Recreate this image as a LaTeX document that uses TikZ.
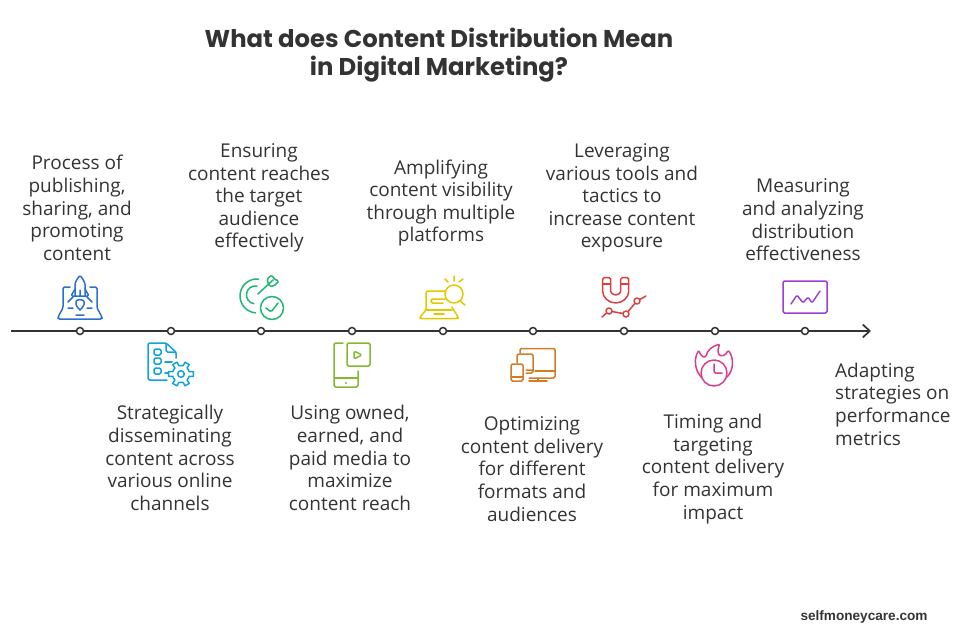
\documentclass[tikz,border=0pt]{standalone}
\usepackage{fontspec}
\usetikzlibrary{arrows.meta}
\setmainfont{Open Sans}
\newfontfamily\titlefont{Poppins}
\newfontfamily\sitefont{Liberation Sans}

\tikzset{
  labeltext/.style = {align = center, inner sep = 0pt, text = inkc, font = \fontsize{19}{22.6}\selectfont},
  dotnode/.style = {circle, draw = inkc, fill = white, line width = 1.5pt, minimum size = 7pt, inner sep = 0pt},
  iconline/.style = {line width = 1.5pt, line cap = round, line join = round, rounded corners = 1.5pt}
}

\begin{document}
\begin{tikzpicture}[x = 1pt, y = -1pt]
  \useasboundingbox (0,0) rectangle (980,640);

  \definecolor{inkc}{HTML}{333333}
  \definecolor{c1}{HTML}{2B6FD0}
  \definecolor{c2}{HTML}{13A3D8}
  \definecolor{c3}{HTML}{22B573}
  \definecolor{c4}{HTML}{84B82E}
  \definecolor{c5}{HTML}{E2C800}
  \definecolor{c6}{HTML}{D47B26}
  \definecolor{c7}{HTML}{D9403F}
  \definecolor{c8}{HTML}{D43F8D}
  \definecolor{c9}{HTML}{9B3FD5}

  \node[labeltext, font = \titlefont\bfseries\fontsize{24.3}{28}\selectfont] (title) at (439,55) {What does Content Distribution Mean\\in Digital Marketing?};
  \node[inner sep = 0pt, text = inkc, font = \sitefont\bfseries\fontsize{13.6}{16}\selectfont] (site) at (864,617) {selfmoneycare.com};

  % axis first, dots go over it
  \coordinate (axisstart) at (11,331);
  \coordinate (axisend) at (871,331);
  \draw[draw = inkc, line width = 1.7pt, -{Straight Barb[length = 7pt, width = 13pt]}] (axisstart) -- (axisend);

  \foreach \x/\n in {80/1, 171/2, 261/3, 352/4, 443/5, 533/6, 624/7, 715/8, 805/9}
    {\node[dotnode] (dot\n) at (\x,331) {};
    }

  \foreach \x/\y/\n/\t in {
    77/208/1/{Process of\\publishing,\\sharing, and\\promoting\\content},
    170/458/2/{Strategically\\disseminating\\content across\\various online\\channels},
    259/198/3/{Ensuring\\content reaches\\the target\\audience\\effectively},
    350/458/4/{Using owned,\\earned, and\\paid media to\\maximize\\content reach},
    441/203/5/{Amplifying\\content visibility\\through multiple\\platforms},
    532/469/6/{Optimizing\\content delivery\\for different\\formats and\\audiences},
    622/198/7/{Leveraging\\various tools and\\tactics to\\increase content\\exposure},
    713/469/8/{Timing and\\targeting\\content delivery\\for maximum\\impact},
    803/220/9/{Measuring\\and analyzing\\distribution\\effectiveness}}
    {\node[labeltext] (label\n) at (\x,\y) {\t};
    }
  \node[labeltext, align = left, anchor = west] (label10) at (835,404) {Adapting\\strategies on\\performance\\metrics};

  % rocket on laptop
  \draw[iconline, c1] (70,287) -- (63,287) -- (63,308) -- (58,317) -- (58,319) -- (102,319) -- (102,317) -- (97,308) -- (97,287) -- (90,287);
  \draw[iconline, c1] (75,296) -- (75,286) .. controls (75,282) and (78,278) .. (80,275) .. controls (82,278) and (85,282) .. (85,286) -- (85,296);
  \draw[iconline, c1] (75,289) -- (71,296) -- (89,296) -- (85,289) (80,290) -- (80,296);
  \draw[iconline, c1] (80,310) .. controls (77,307) and (76,305) .. (76,303) .. controls (76,299) and (84,299) .. (84,303) .. controls (84,305) and (83,307) .. (80,310);
  \draw[iconline, c1] (68,302) -- (73,297) (87,297) -- (92,302) (68,308) -- (73,308) (87,308) -- (92,308) (76,315) -- (84,315);

  % list page with gear
  \draw[iconline, c2] (176,358) -- (176,352) -- (166,343) -- (148,343) -- (148,380) -- (167,380);
  \draw[iconline, c2] (166,343) -- (166,352) -- (176,352);
  \foreach \y in {349,358,368}
    {\draw[iconline, c2] (154,\y) rectangle (161,\y + 6);
    }
  \draw[iconline, c2] (165,362) -- (172,362) (165,373) -- (168,373);
  \begin{scope}[shift = {(181,374)}]
    \foreach \a in {0,60,...,300}
      {\draw[iconline, c2, rounded corners = 0pt] (\a - 30:8.5) -- (\a - 16:8.5) -- (\a - 11:12.5) -- (\a + 11:12.5) -- (\a + 16:8.5) -- (\a + 30:8.5);
      }
    \draw[iconline, c2] (0,0) circle (3.3);
  \end{scope}

  % target with check
  \draw[iconline, c3] (258.5,279) arc[start angle = -85, end angle = -265, radius = 17];
  \draw[iconline, c3] (257,286) arc[start angle = -80, end angle = -260, radius = 9];
  \draw[iconline, c3, fill = white] (272,308) circle (11.5);
  \draw[iconline, c3] (266,308) -- (271,312) -- (278,303);
  \draw[iconline, c3] (258,294) -- (273,280);
  \draw[iconline, c3] (267,279) -- (272,275) -- (274,279) -- (279,281) -- (274,286) -- (269,286) -- cycle;

  % phone with video
  \draw[iconline, c4] (343,343) -- (334,343) -- (334,387) -- (358,387) -- (358,371);
  \draw[iconline, c4] (334,378) -- (358,378);
  \fill[c4] (346,383) circle (1.2);
  \draw[iconline, c4] (347,343) rectangle (370,366);
  \draw[iconline, c4] (354,351) -- (362,355) -- (354,359) -- cycle;

  % laptop with magnifier
  \draw[iconline, c5] (445,291) -- (426,291) -- (426,310) -- (420,317) -- (420,318.5) -- (458,318.5) -- (458,317) -- (452,307);
  \draw[iconline, c5] (426,310) -- (452,310) (434,314) -- (444,314);
  \draw[iconline, c5] (445,299) -- (431,299) -- (431,303) -- (443,303);
  \draw[iconline, c5] (454,294) circle (9);
  \draw[iconline, c5] (460,301) -- (465,305) (454,276) -- (454,281) (445,279) -- (448,282) (463,279) -- (459,282);

  % screens
  \draw[iconline, c6] (520,353) -- (520,348.5) -- (555,348.5) -- (555,378) -- (529,378);
  \draw[iconline, c6] (535,371) -- (555,371) (538,378) -- (538,381) (529,381) -- (547,381);
  \draw[iconline, c6] (517,363) -- (517,354) -- (533,354) -- (533,373) -- (526,373) (526,370) -- (533,370);
  \draw[iconline, c6] (511,364) rectangle (523,381);
  \draw[iconline, c6] (511,377) -- (523,377);

  % magnet and chart
  \draw[iconline, c7] (602.7,277.7) -- (602.7,290) arc[start angle = 180, end angle = 0, radius = 13] -- (628.7,277.7) -- (620.7,277.7) -- (620.7,290) arc[start angle = 0, end angle = 180, radius = 5] -- (610.7,277.7) -- cycle;
  \draw[iconline, c7] (602.7,284) -- (610.7,284) (620.7,284) -- (628.7,284);
  \draw[iconline, c7] (602,317) -- (609,311) -- (626,314) -- (637,301) -- (646,296);
  \foreach \x/\y in {609/311, 626/314, 637/301}
    {\draw[iconline, c7, fill = white] (\x,\y) circle (3);
    }

  % clock in flame
  \draw[iconline, c8] (714,373) circle (13);
  \draw[iconline, c8] (714,364) -- (714,373) -- (722,373);
  \draw[iconline, c8] (702,378) .. controls (694,370) and (694,358) .. (699,350) .. controls (700,355) and (703,357) .. (706,357) .. controls (707,350) and (713,346) .. (720,344) .. controls (717,350) and (718,355) .. (722,356) .. controls (725,355) and (727,353) .. (728,350) .. controls (734,358) and (734,370) .. (727,377);

  % chart window
  \draw[iconline, c9] (783,281) rectangle (827,313);
  \draw[iconline, c9] (791,304) -- (797,295) -- (803,303) -- (808,297) -- (812,303) -- (820,291);
\end{tikzpicture}
\end{document}
